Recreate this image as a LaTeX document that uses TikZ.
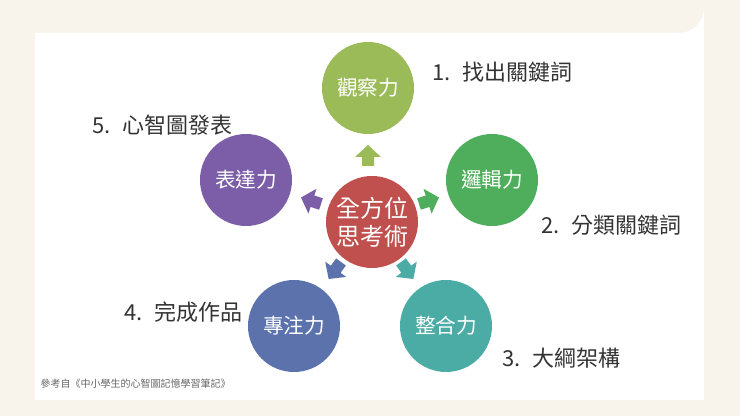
\documentclass[tikz,border=0pt]{standalone}
\usepackage{fontspec}
\setmainfont{Noto Sans CJK TC}
\begin{document}
\begin{tikzpicture}[x=0.75pt,y=-0.75pt,
  circ/.style={circle,minimum size=92*0.75pt,inner sep=0pt,text=white,font=\fontsize{15.5}{18}\selectfont},
  lbl/.style={text=black!80,font=\fontsize{16.5}{20}\selectfont},
  barrow/.pic={\fill[pic actions] (-6,0) -- (-6,-9) -- (-13,-9) -- (0,-21) -- (13,-9) -- (6,-9) -- (6,0) -- cycle;}]
\definecolor{bg}{HTML}{F8F4EC}
\definecolor{cg}{HTML}{9BBB59}
\definecolor{cg2}{HTML}{4FAE5B}
\definecolor{ct}{HTML}{4BACA6}
\definecolor{cb}{HTML}{5B72AD}
\definecolor{cp}{HTML}{7B5EA7}
\definecolor{cr}{HTML}{C0504D}
\fill[bg] (0,0) rectangle (740,416);
\useasboundingbox (0,0) rectangle (740,416);
\fill[white] (35,33) -- (679,33) arc[start angle=90,end angle=0,radius=25] -- (704,400) -- (35,400) -- cycle;
\node[circ,fill=cr,font=\fontsize{18}{21}\selectfont,align=center] (c) at (372,222) {全方位\\思考術};
\node[circ,fill=cg] (n1) at (368,88) {觀察力};
\node[circ,fill=cg2] (n2) at (492,180) {邏輯力};
\node[circ,fill=ct] (n3) at (446,326) {整合力};
\node[circ,fill=cb] (n4) at (294,326) {專注力};
\node[circ,fill=cp] (n5) at (246,180) {表達力};
\pic[fill=cg] at (368,166) {barrow};
\pic[fill=cg2,rotate=-72] at (419,204) {barrow};
\pic[fill=ct,rotate=-144] at (401,262) {barrow};
\pic[fill=cb,rotate=144] at (341,262) {barrow};
\pic[fill=cp,rotate=72] at (321,204) {barrow};
\node[lbl,anchor=west] (l1) at (428,72) {1.\enspace 找出關鍵詞};
\node[lbl,anchor=west] (l2) at (537,225) {2.\enspace 分類關鍵詞};
\node[lbl,anchor=west] (l3) at (498,358) {3.\enspace 大綱架構};
\node[lbl,anchor=west] (l4) at (120,312) {4.\enspace 完成作品};
\node[lbl,anchor=west] (l5) at (88,125) {5.\enspace 心智圖發表};
\node[anchor=west,text=black!60,font=\fontsize{7.5}{9}\selectfont] (src) at (36,384) {參考自《中小學生的心智圖記憶學習筆記》};
\end{tikzpicture}
\end{document}
